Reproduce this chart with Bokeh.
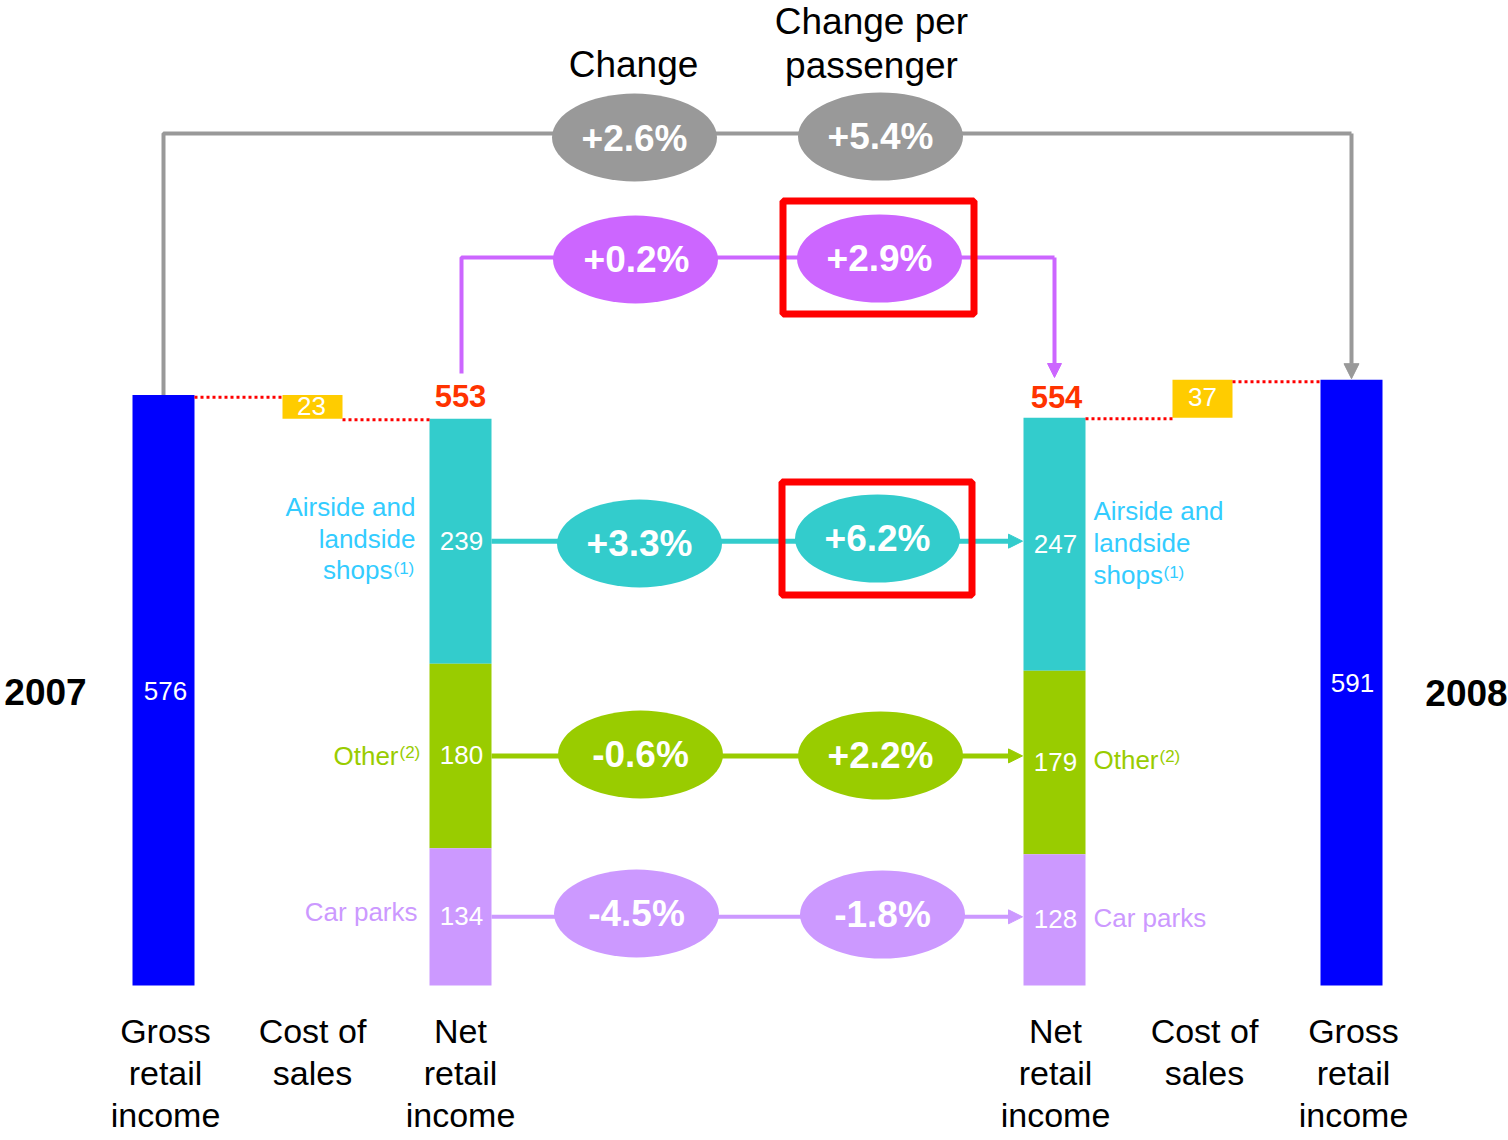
from bokeh.plotting import figure
from bokeh.models import Range1d, Arrow, NormalHead
from bokeh.core.properties import value
from bokeh.embed import file_html
from bokeh.resources import INLINE

# ---------------- data ----------------
years = ["2007", "2008"]
gross_income = [576, 591]
cost_of_sales = [23, 37]
net_income = [553, 554]
segments = ["Airside and landside shops", "Other", "Car parks"]
segments_2007 = [239, 180, 134]
segments_2008 = [247, 179, 128]
change_total = ["+2.6%", "+0.2%"]          # gross, net
change_per_pax_total = ["+5.4%", "+2.9%"]  # gross, net
change_segments = ["+3.3%", "-0.6%", "-4.5%"]
change_per_pax_segments = ["+6.2%", "+2.2%", "-1.8%"]
column_labels = [["Gross", "retail", "income"], ["Cost of", "sales"], ["Net", "retail", "income"]]
header_change = ["Change"]
header_per_pax = ["Change per", "passenger"]

# ---------------- styling ----------------
FONT = value("Liberation Sans")
BLUE = "#0000FF"
YELLOW = "#FFCC00"
RED = "#FF0000"
ORANGE = "#FF3300"
GRAY = "#999999"
PURPLE = "#CC66FF"
SEG_COLORS = ["#33CCCC", "#99CC00", "#CC99FF"]
SEG_LABEL_COLORS = ["#33CCFF", "#99CC00", "#CC99FF"]

W, H = 1508, 1140
PX = 1.025   # pixels per unit
BASE = 985   # pixel row of zero
K = 0.38     # baseline correction (fraction of font size)


def Y(pix):
    return (BASE - pix) / PX


p = figure(width=W, height=H, output_backend="svg", toolbar_location=None,
           x_range=Range1d(0, W), y_range=Range1d(Y(H), Y(0)), min_border=0)
p.axis.visible = False
p.grid.visible = False
p.outline_line_color = None
p.background_fill_color = "white"
p.border_fill_color = "white"

# column x-centres (layout)
XG0, XC0, XN0 = 163, 312, 460
XN1, XC1, XG1 = 1054, 1202, 1351
BW, CW = 62, 60


def txt(x, y, s, size, color="black", align="center", bold=False):
    """y is the data-space position of the text baseline."""
    p.text(x=[x], y=[y + K * size / PX], text=[s], text_font=FONT, text_font_size=f"{size}px",
           text_color=color, text_align=align, text_baseline="alphabetic",
           text_font_style="bold" if bold else "normal")


# ---------------- connectors (drawn first) ----------------
gy = Y(133)
p.line(x=[XG0, XG0, XG1], y=[gross_income[0], gy, gy], line_color=GRAY, line_width=4)
p.add_layout(Arrow(end=NormalHead(size=15, fill_color=GRAY, line_color=GRAY),
                   x_start=XG1, y_start=gy, x_end=XG1, y_end=gross_income[1] + 1,
                   line_color=GRAY, line_width=4))
py = Y(257)
p.line(x=[XN0 + 1, XN0 + 1, XN1], y=[Y(373), py, py], line_color=PURPLE, line_width=4)
p.add_layout(Arrow(end=NormalHead(size=14, fill_color=PURPLE, line_color=PURPLE),
                   x_start=XN1, y_start=py, x_end=XN1, y_end=Y(377),
                   line_color=PURPLE, line_width=4))

bottoms07 = []
acc = 0
for v in reversed(segments_2007):
    bottoms07.insert(0, acc)
    acc += v
bottoms08 = []
acc = 0
for v in reversed(segments_2008):
    bottoms08.insert(0, acc)
    acc += v
rows = [b + v / 2 for b, v in zip(bottoms07, segments_2007)]
row_w = [5, 5, 4]
for i, r in enumerate(rows):
    c = SEG_COLORS[i]
    p.line(x=[XN0 + BW / 2, XN1 - BW / 2 - 10], y=[r, r], line_color=c, line_width=row_w[i])
    p.add_layout(Arrow(end=NormalHead(size=14, fill_color=c, line_color=c),
                       x_start=XN1 - BW / 2 - 14, y_start=r, x_end=XN1 - BW / 2 - 1, y_end=r,
                       line_color=c, line_width=row_w[i]))

# ---------------- bars ----------------
p.vbar(x=[XG0, XG1], top=gross_income, bottom=0, width=BW, fill_color=BLUE, line_color=None)
p.vbar(x=[XC0, XC1], top=gross_income, bottom=net_income, width=CW, fill_color=YELLOW, line_color=None)
p.vbar(x=[XN0] * 3, top=[b + v for b, v in zip(bottoms07, segments_2007)], bottom=bottoms07,
       width=BW, fill_color=SEG_COLORS, line_color=None)
p.vbar(x=[XN1] * 3, top=[b + v for b, v in zip(bottoms08, segments_2008)], bottom=bottoms08,
       width=BW, fill_color=SEG_COLORS, line_color=None)

dl = dict(line_color=RED, line_width=3, line_dash="3 3")
p.line(x=[XG0 + BW / 2, XC0 - CW / 2], y=[gross_income[0] - 2, gross_income[0] - 2], **dl)
p.line(x=[XC0 + CW / 2, XN0 - BW / 2], y=[net_income[0] - 1, net_income[0] - 1], **dl)
p.line(x=[XN1 + BW / 2, XC1 - CW / 2], y=[net_income[1] - 1, net_income[1] - 1], **dl)
p.line(x=[XC1 + CW / 2, XG1 - BW / 2], y=[gross_income[1] - 2, gross_income[1] - 2], **dl)

# ---------------- ellipses ----------------
ell = dict(width=165, height=88, width_units="screen", height_units="screen", line_color=None)
p.ellipse(x=[634, 880], y=[Y(137), Y(136)], fill_color=GRAY, **ell)
p.ellipse(x=[635, 879], y=[Y(259), Y(258)], fill_color=PURPLE, **ell)
ell_rows_px = [(543, 538), (754, 755), (913, 914)]
ell_x = [(639, 877), (640, 880), (636, 882)]
for i in range(3):
    p.ellipse(x=list(ell_x[i]), y=[Y(ell_rows_px[i][0]), Y(ell_rows_px[i][1])],
              fill_color=SEG_COLORS[i], **ell)

p.quad(left=[782.5, 781.5], right=[973.5, 971.5], top=[Y(200.5), Y(481.5)], bottom=[Y(313.5), Y(594.5)],
       fill_color=None, line_color=RED, line_width=7)

txt(634, Y(152), change_total[0], 37, "white", bold=True)
txt(880, Y(150), change_per_pax_total[0], 37, "white", bold=True)
txt(636, Y(273), change_total[1], 37, "white", bold=True)
txt(879, Y(272), change_per_pax_total[1], 37, "white", bold=True)
for i in range(3):
    txt(ell_x[i][0], Y(ell_rows_px[i][0] + 14), change_segments[i], 37, "white", bold=True)
    txt(ell_x[i][1], Y(ell_rows_px[i][1] + 14), change_per_pax_segments[i], 37, "white", bold=True)

txt(633, Y(78), header_change[0], 37)
txt(871, Y(35), header_per_pax[0], 37)
txt(871, Y(79), header_per_pax[1], 37)

# ---------------- value labels ----------------
txt(XG0 + 2, gross_income[0] / 2 - 10, str(gross_income[0]), 26, "white")
txt(XG1 + 1, gross_income[1] / 2 - 10, str(gross_income[1]), 26, "white")
txt(XC0 - 1, Y(415), str(cost_of_sales[0]), 26, "white")
txt(XC1, Y(406), str(cost_of_sales[1]), 26, "white")
txt(XN0, Y(407), str(net_income[0]), 31, ORANGE, bold=True)
txt(XN1 + 2, Y(408), str(net_income[1]), 31, ORANGE, bold=True)
for i in range(3):
    m07 = bottoms07[i] + segments_2007[i] / 2
    m08 = bottoms08[i] + segments_2008[i] / 2
    txt(XN0 + 1, m07 - 9, str(segments_2007[i]), 26, "white")
    txt(XN1 + 1, m08 - 9, str(segments_2008[i]), 26, "white")

lc = SEG_LABEL_COLORS
txt(415, Y(516), "Airside and", 26, lc[0], align="right")
txt(415, Y(548), "landside", 26, lc[0], align="right")
txt(392, Y(579), "shops", 26, lc[0], align="right")
txt(393, Y(574), "(1)", 17, lc[0], align="left")
txt(398, Y(765), "Other", 26, lc[1], align="right")
txt(399, Y(758), "(2)", 17, lc[1], align="left")
txt(417, Y(921), "Car parks", 26, lc[2], align="right")
txt(1093, Y(520), "Airside and", 26, lc[0], align="left")
txt(1093, Y(552), "landside", 26, lc[0], align="left")
txt(1093, Y(584), "shops", 26, lc[0], align="left")
txt(1163, Y(578), "(1)", 17, lc[0], align="left")
txt(1093, Y(769), "Other", 26, lc[1], align="left")
txt(1159, Y(762), "(2)", 17, lc[1], align="left")
txt(1093, Y(927), "Car parks", 26, lc[2], align="left")

txt(45, Y(706), years[0], 37, bold=True)
txt(1466, Y(707), years[1], 37, bold=True)

for x_left, x_right, k in [(XG0 + 2, XG1 + 2, 0), (XC0, XC1 + 2, 1), (XN0, XN1 + 1, 2)]:
    for j, line in enumerate(column_labels[k]):
        yb = Y(1043 + 42 * j)
        txt(x_left, yb, line, 34)
        txt(x_right, yb, line, 34)

open("out.html", "w").write(file_html(p, INLINE))
